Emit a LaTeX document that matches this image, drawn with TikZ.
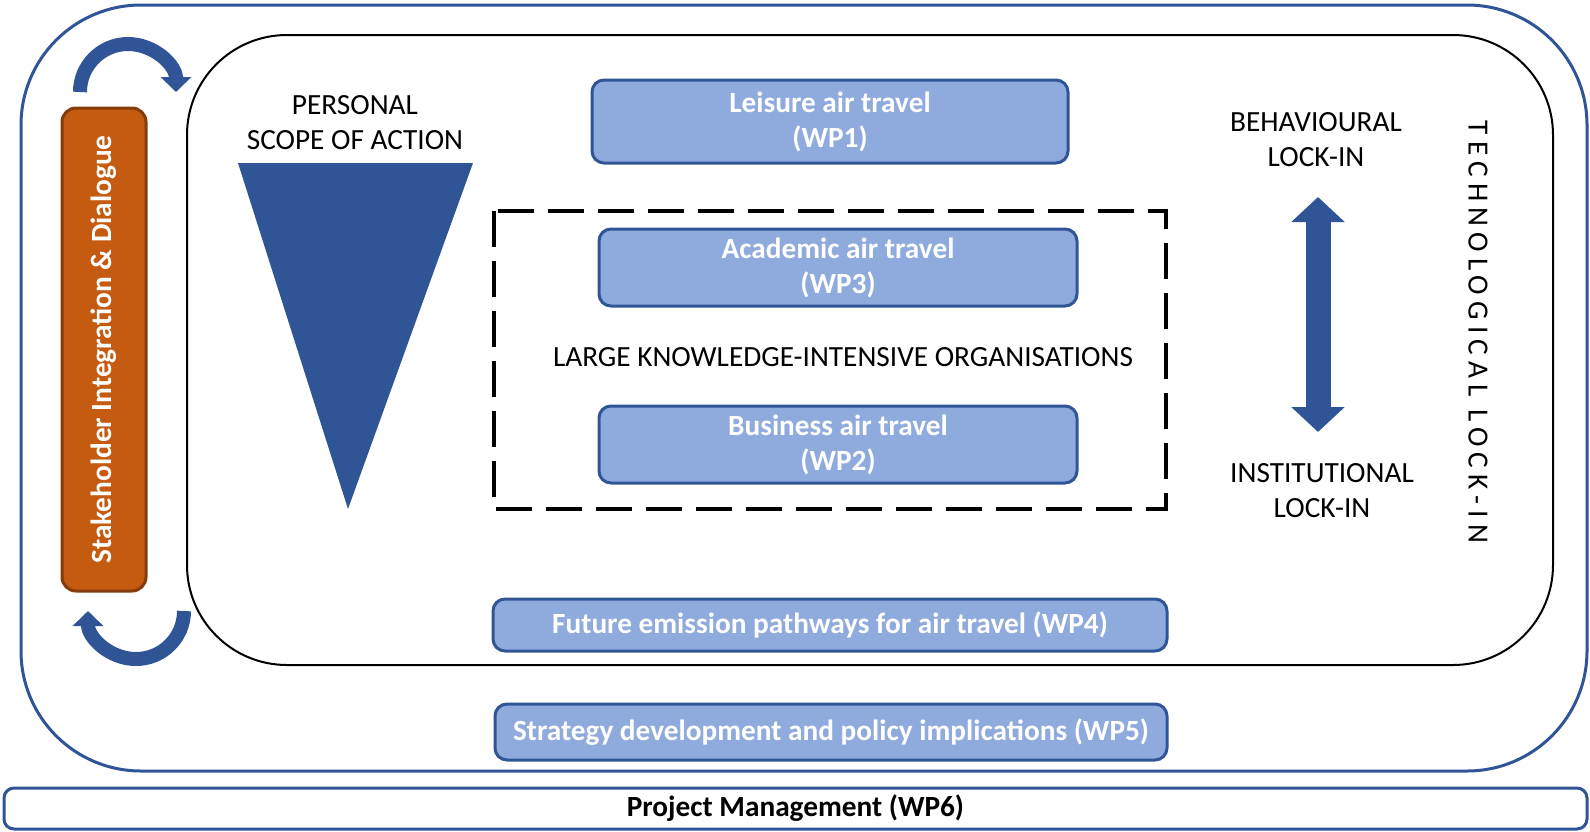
\documentclass[tikz,border=0pt]{standalone}
\usepackage{fontspec}
\setmainfont{Carlito}
\newfontfamily\spacedfont[LetterSpace=21]{Carlito}
\usetikzlibrary{arrows.meta}
\definecolor{wpfill}{HTML}{8FAADC}
\definecolor{wpline}{HTML}{2F5597}
\definecolor{stakefill}{HTML}{C55A11}
\definecolor{stakeline}{HTML}{843C0C}
\tikzset{
  wpbox/.style={draw=wpline, fill=wpfill, line width=3pt, rounded corners=12pt,
    text=white, font=\fontsize{29.3}{35}\selectfont\bfseries, align=center, inner sep=0pt},
  plaintext/.style={font=\fontsize{29.3}{35}\selectfont, align=center, inner sep=0pt},
  curvearrow/.style={draw=wpline, line width=14pt, -{Triangle[width=30pt,length=15pt]}},
  lockarrow/.style={draw=wpline, line width=25pt, {Triangle[width=52pt,length=25pt]}-{Triangle[width=52pt,length=25pt]}}
}

\begin{document}
\begin{tikzpicture}[x=1pt,y=-1pt]
\useasboundingbox (0,0) rectangle (1590,831);

% frames
\draw[wpline, line width=3pt, rounded corners=120pt] (21,5) rectangle (1587,771);
\draw[black, line width=2pt, rounded corners=100pt] (187,35) rectangle (1553,665);
\draw[black, line width=3.5pt, dash pattern=on 36pt off 14pt] (494,211) rectangle (1166,509);

\node[draw=wpline, line width=3pt, rounded corners=10pt, minimum width=1583pt, minimum height=41pt,
  font=\fontsize{29.3}{35}\selectfont\bfseries, inner sep=0pt] (wp6) at (795.5,808.5) {Project Management (WP6)};

\node[draw=stakeline, fill=stakefill, line width=3pt, rounded corners=14pt, minimum width=84pt,
  minimum height=483pt, inner sep=0pt] (stake) at (104,349.5) {};
\node[rotate=90, text=white, font=\fontsize{29.3}{35}\selectfont\bfseries] (staketext) at (stake.center) {Stakeholder Integration \& Dialogue};

% work packages
\node[wpbox, minimum width=476pt, minimum height=83pt] (wp1) at (830,121.5) {Leisure air travel\\(WP1)};
\node[wpbox, minimum width=478pt, minimum height=77pt] (wp3) at (838,267.5) {Academic air travel\\(WP3)};
\node[wpbox, minimum width=478pt, minimum height=77pt] (wp2) at (838,444.5) {Business air travel\\(WP2)};
\node[wpbox, minimum width=674pt, minimum height=52pt] (wp4) at (830,625) {Future emission pathways for air travel (WP4)};
\node[wpbox, minimum width=672pt, minimum height=56pt] (wp5) at (831,732) {Strategy development and policy implications (WP5)};

\node[plaintext] (orgs) at (843,357) {LARGE KNOWLEDGE-INTENSIVE ORGANISATIONS};

% personal scope
\node[plaintext] (scope) at (355,123) {PERSONAL\\SCOPE OF ACTION};
\fill[wpline] (238,163) -- (473,163) -- (348,509) -- cycle;

% lock-ins
\node[plaintext] (behav) at (1316,140) {BEHAVIOURAL\\LOCK-IN};
\node[plaintext] (instit) at (1322,491) {INSTITUTIONAL\\LOCK-IN};
\coordinate (locktop) at (1318,197);
\coordinate (lockbot) at (1318,432);
\draw[lockarrow] (locktop) -- (lockbot);
\node[rotate=-90, font=\fontsize{29.3}{35}\selectfont\spacedfont, inner sep=0pt] (techno) at (1478,332) {TECHNOLOGICAL LOCK-IN};

% dialogue arrows
\coordinate (topstart) at (80,92);
\coordinate (botstart) at (184,611);
\draw[curvearrow] (topstart) arc[start angle=180, end angle=360, radius=48];
\draw[curvearrow] (botstart) arc[start angle=0, end angle=180, radius=48];
\end{tikzpicture}
\end{document}
